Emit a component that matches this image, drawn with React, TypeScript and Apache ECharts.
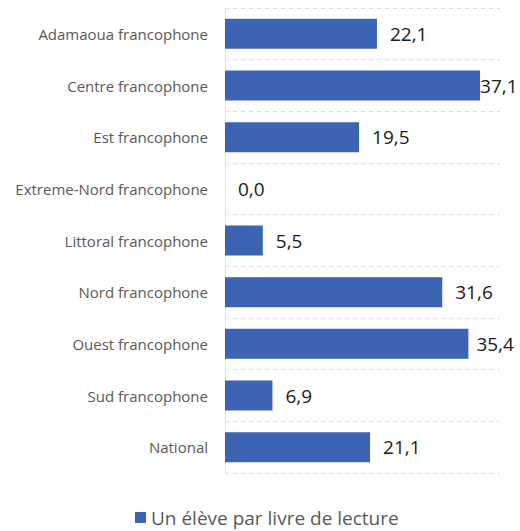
import React, { useEffect, useRef } from "react";
import * as echarts from "echarts";

const categories = [
  "Adamaoua francophone",
  "Centre francophone",
  "Est francophone",
  "Extreme-Nord francophone",
  "Littoral francophone",
  "Nord francophone",
  "Ouest francophone",
  "Sud francophone",
  "National",
];
const values = [22.1, 37.1, 19.5, 0.0, 5.5, 31.6, 35.4, 6.9, 21.1];
const seriesName = "Un élève par livre de lecture";

export default function App() {
  const ref = useRef<HTMLDivElement>(null);
  useEffect(() => {
    if (!ref.current) return;
    const chart = echarts.init(ref.current, null, { renderer: "svg" });
    const data = values.map((v, i) =>
      i === 1
        ? { value: v, label: { distance: 0 } }
        : i === 6
        ? { value: v, label: { distance: 8 } }
        : { value: v }
    );
    chart.setOption({
      animation: false,
      backgroundColor: "#ffffff",
      grid: { left: 225, right: 20, top: 8, bottom: 58, containLabel: false },
      xAxis: {
        type: "value",
        min: 0,
        max: 40,
        show: false,
      },
      yAxis: {
        type: "category",
        data: categories,
        inverse: true,
        axisLine: { show: true, lineStyle: { color: "#e4e4e4", width: 1 } },
        axisTick: { show: false },
        splitLine: {
          show: true,
          lineStyle: { color: "#dcdcdc", type: [4, 4], width: 1 },
        },
        axisLabel: {
          color: "#595959",
          fontFamily: "Open Sans",
          fontSize: 15,
          margin: 17,
        },
      },
      legend: {
        bottom: -1,
        left: 130,
        itemWidth: 11,
        itemHeight: 11,
        itemGap: 6,
        icon: "rect",
        textStyle: {
          color: "#595959",
          fontFamily: "Open Sans",
          fontSize: 19,
        },
      },
      series: [
        {
          name: seriesName,
          type: "bar",
          data,
          barCategoryGap: "42%",
          itemStyle: { color: "#3d63b3" },
          label: {
            show: true,
            position: "right",
            distance: 13,
            color: "#1a1a1a",
            fontFamily: "Open Sans",
            fontSize: 19,
            formatter: (p: any) => Number(p.value).toFixed(1).replace(".", ","),
          },
        },
      ],
    });
    return () => chart.dispose();
  }, []);
  return (
    <div
      ref={ref}
      style={{ position: "absolute", left: 0, top: 0, width: 520, height: 531 }}
    />
  );
}
